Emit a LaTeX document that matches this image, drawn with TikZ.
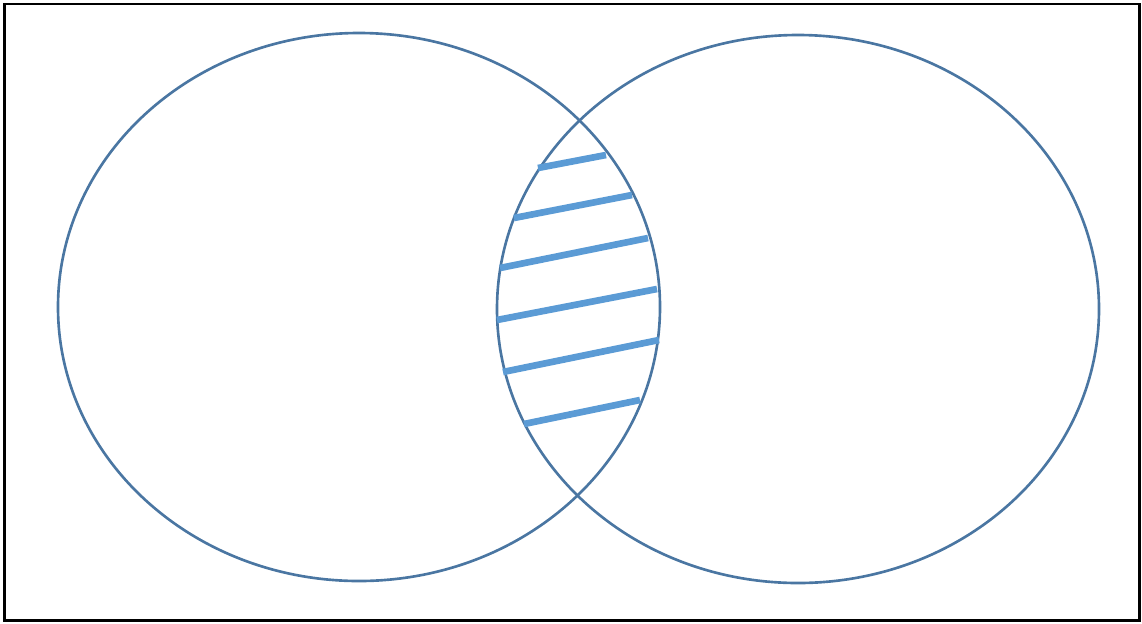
\documentclass[tikz,border=0pt]{standalone}
\usepackage{tikz}
\usetikzlibrary{calc}

\begin{document}
\begin{tikzpicture}[
    x=0.02cm, y=-0.02cm,
    % --- Global Styles ---
    frame/.style={draw=black, line width=1.4pt},
    set/.style={draw=setblue, line width=1.5pt},
    hatch/.style={draw=hatchblue, line width=3.8pt}
]
    \definecolor{setblue}{HTML}{4A76A2}
    \definecolor{hatchblue}{HTML}{5B9BD5}

    % --- Canvas & Frame ---
    \useasboundingbox (0,0) rectangle (1142,623);
    \draw[frame] (4.5,4) rectangle (1139.5,620.5);

    % --- The two sets ---
    \draw[set] (359,307) ellipse [x radius=301, y radius=274];
    \draw[set] (798,309) ellipse [x radius=301, y radius=274];

    % --- Hatching of the intersection ---
    \foreach \xa/\ya/\xb/\yb in {538/168/606/155, 514/218/632/195, 500/268/648/238,
                                 497/320/657/289, 503/372/659/340, 524/424/640/400}
        \draw[hatch] (\xa,\ya) -- (\xb,\yb);

\end{tikzpicture}
\end{document}
